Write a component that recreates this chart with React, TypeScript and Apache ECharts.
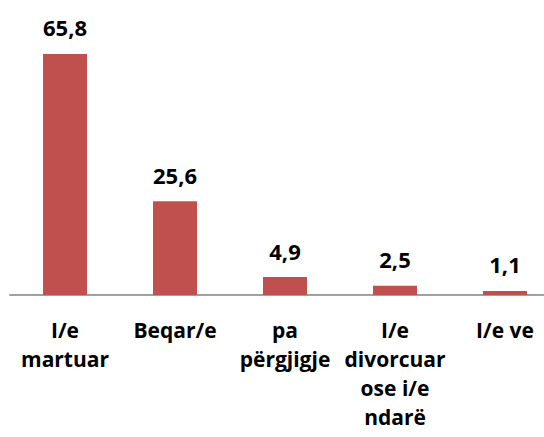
import React, { useEffect, useRef } from "react";
import * as echarts from "echarts";

const categories = [
  "I/e\nmartuar",
  "Beqar/e",
  "pa\npërgjigje",
  "I/e\ndivorcuar\nose i/e\nndarë",
  "I/e ve",
];
const values = [65.8, 25.6, 4.9, 2.5, 1.1];

export default function App() {
  const ref = useRef<HTMLDivElement>(null);
  useEffect(() => {
    if (!ref.current) return;
    const chart = echarts.init(ref.current, null, { renderer: "svg" });
    chart.setOption({
      animation: false,
      grid: {
        left: 10,
        top: 38.6,
        width: 550,
        height: 256.4,
        containLabel: false,
        outerBoundsMode: "none",
      },
      xAxis: {
        type: "category",
        data: categories,
        axisLine: { show: true, lineStyle: { color: "#a0a0a0", width: 2 } },
        axisTick: { show: false },
        axisLabel: {
          interval: 0,
          color: "#000",
          fontFamily: "Open Sans",
          fontWeight: "bold",
          fontSize: 21,
          lineHeight: 29,
          margin: 20,
          align: "center",
        },
      },
      yAxis: {
        type: "value",
        min: 0,
        max: 70,
        show: false,
        splitLine: { show: false },
      },
      series: [
        {
          type: "bar",
          data: values,
          barWidth: "40%",
          itemStyle: { color: "#C0504D" },
          label: {
            show: true,
            position: "top",
            distance: 16,
            color: "#000",
            fontFamily: "Open Sans",
            fontWeight: "bold",
            fontSize: 22,
            lineHeight: 21,
            formatter: (p: any) => String(p.value).replace(".", ","),
          },
        },
      ],
    });
    return () => chart.dispose();
  }, []);
  return <div ref={ref} style={{ width: 544, height: 437, position: "absolute", left: 0, top: 0 }} />;
}
